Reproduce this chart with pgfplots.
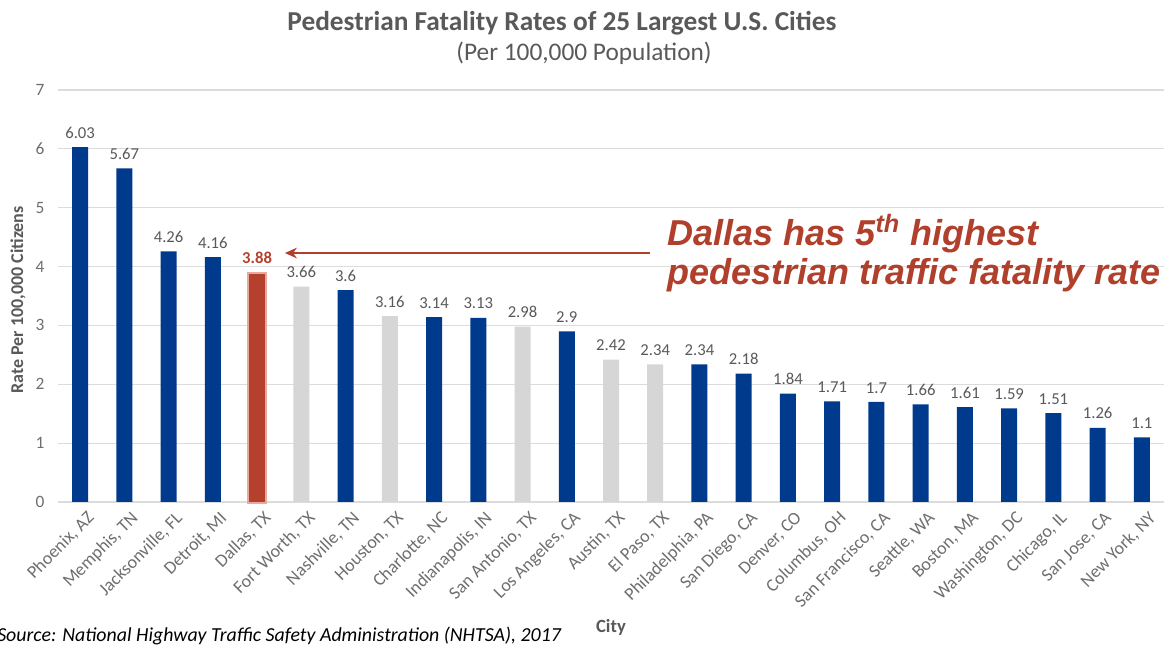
\documentclass[border=0pt]{standalone}
\usepackage{fontspec}
\setmainfont{Carlito}
\newfontfamily\arialfont{Liberation Sans}
\usepackage{pgfplots}
\pgfplotsset{compat=1.18}
\usetikzlibrary{arrows.meta}
\definecolor{barblue}{HTML}{003A8C}
\definecolor{bargrey}{HTML}{D6D6D6}
\definecolor{barred}{HTML}{B5402D}
\definecolor{glowred}{HTML}{E9A99C}
\definecolor{txtgray}{HTML}{595959}
\definecolor{tickgray}{HTML}{6E6E6E}
\definecolor{gridgray}{HTML}{DCDCDC}
\definecolor{annred}{HTML}{B03F2B}
\begin{document}
\begin{tikzpicture}
\path[use as bounding box] (-43.5pt,-107.25pt) rectangle (831pt,376.5pt);
\begin{axis}[
  at={(0,0)}, anchor=south west, scale only axis,
  width=829.5pt, height=309pt,
  xmin=-0.5, xmax=24.5, ymin=0, ymax=7,
  ytick={0,1,...,7},
  xtick={0,1,...,24},
  xticklabels={{Phoenix, AZ},{Memphis, TN},{Jacksonville, FL},{Detroit, MI},{Dallas, TX},{Fort Worth, TX},{Nashville, TN},{Houston, TX},{Charlotte, NC},{Indianapolis, IN},{San Antonio, TX},{Los Angeles, CA},{Austin, TX},{El Paso, TX},{Philadelphia, PA},{San Diego, CA},{Denver, CO},{Columbus, OH},{San Francisco, CA},{Seattle, WA},{Boston, MA},{Washington, DC},{Chicago, IL},{San Jose, CA},{New York, NY}},
  x tick label style={rotate=45, anchor=east, inner sep=0pt, font=\fontsize{13.5}{15}\selectfont, color=tickgray, xshift=-1pt, yshift=-13pt},
  y tick label style={font=\fontsize{13}{15}\selectfont, color=tickgray, inner sep=0pt, xshift=-10pt},
  /pgf/number format/assume math mode=true,
  ymajorgrids, grid style={draw=gridgray, line width=0.8pt},
  axis line style={draw=none},
  major tick length=0pt,
  ybar, bar width=12pt,
  clip=false,
  nodes near coords,
  every node near coord/.append style={font=\fontsize{12.5}{14}\selectfont, color=txtgray, yshift=3pt},
]
\addplot[fill=barblue, draw=none, bar shift=0pt] coordinates {
(0,6.03) (1,5.67) (2,4.26) (3,4.16) (6,3.6) (8,3.14) (9,3.13) (11,2.9)
(14,2.34) (15,2.18) (16,1.84) (17,1.71) (18,1.7) (19,1.66) (20,1.61)
(21,1.59) (22,1.51) (23,1.26) (24,1.1)};
\addplot[fill=bargrey, draw=none, bar shift=0pt] coordinates {
(5,3.66) (7,3.16) (10,2.98) (12,2.42) (13,2.34)};
\addplot[fill=barred, draw=glowred, line width=3pt, bar shift=0pt, nodes near coords=\empty] coordinates {(4,3.88)};
\addplot[fill=barred, draw=none, bar shift=0pt,
  every node near coord/.append style={font=\bfseries\fontsize{12.5}{14}\selectfont, color=barred, yshift=1pt}] coordinates {(4,3.88)};
\draw[annred, line width=1.2pt, -{Stealth[length=9pt,width=8pt]}] (axis cs:12.88,4.23) -- (axis cs:4.63,4.23);
\node[anchor=base west, inner sep=0pt, font=\arialfont\bfseries\itshape\fontsize{27}{30}\selectfont, color=annred] at (axis cs:13.27,4.366) {Dallas has 5\textsuperscript{th} highest};
\node[anchor=base west, inner sep=0pt, font=\arialfont\bfseries\itshape\fontsize{27}{30}\selectfont, color=annred] at (axis cs:13.27,3.687) {pedestrian traffic fatality rate};
\end{axis}
\node[font=\bfseries\fontsize{20.5}{24}\selectfont, color=txtgray] at (378pt,359pt) {Pedestrian Fatality Rates of 25 Largest U.S. Cities};
\node[font=\fontsize{19}{22}\selectfont, color=txtgray] at (394.5pt,336.5pt) {(Per 100,000 Population)};
\node[rotate=90, font=\bfseries\fontsize{13.5}{15}\selectfont, color=txtgray] at (-30pt,151.5pt) {Rate Per 100,000 Citizens};
\node[font=\bfseries\fontsize{14}{16}\selectfont, color=txtgray] at (414.75pt,-93.75pt) {City};
\node[anchor=base west, inner sep=0pt, font=\itshape\fontsize{14.9}{17}\selectfont, color=black] at (-45.75pt,-105pt) {Source: National Highway Traffic Safety Administration (NHTSA), 2017};
\end{tikzpicture}
\end{document}
